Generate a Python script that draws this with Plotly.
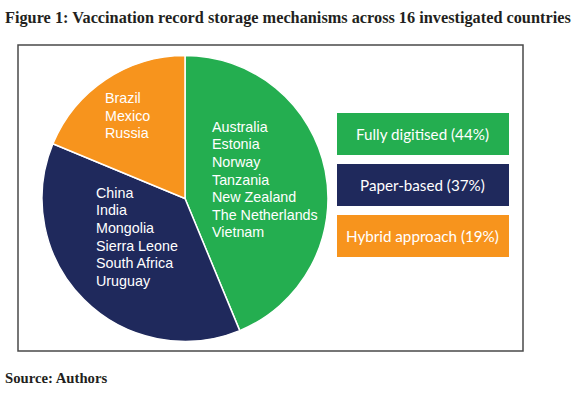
import plotly.graph_objects as go

# ---- data ----
categories = ["Fully digitised", "Paper-based", "Hybrid approach"]
counts = [7, 6, 3]
percent_labels = [44, 37, 19]
countries_digital = ["Australia", "Estonia", "Norway", "Tanzania", "New Zealand", "The Netherlands", "Vietnam"]
countries_paper = ["China", "India", "Mongolia", "Sierra Leone", "South Africa", "Uruguay"]
countries_hybrid = ["Brazil", "Mexico", "Russia"]
colors = ["#24AE50", "#1F295C", "#F7941D"]

W, H = 573, 397

def px_x(x):
    return x / W

def px_y(y):
    return 1 - y / H

fig = go.Figure()

cx, cy, r = 185, 198.5, 143
fig.add_trace(go.Pie(
    labels=categories,
    values=counts,
    sort=False,
    direction="clockwise",
    rotation=0,
    marker=dict(colors=colors, line=dict(color="white", width=1.5)),
    textinfo="none",
    hoverinfo="label+value",
    showlegend=False,
    domain=dict(x=[px_x(cx - r), px_x(cx + r)], y=[px_y(cy + r), px_y(cy - r)]),
))

annotations = []
shapes = []

# frame
shapes.append(dict(type="rect", xref="paper", yref="paper",
                   x0=px_x(18), x1=px_x(523), y0=px_y(351), y1=px_y(45),
                   line=dict(color="#4a4a4a", width=1.5), fillcolor="rgba(0,0,0,0)", layer="below"))

# country lists inside slices (one annotation per line, 17.5px line pitch)
country_font = dict(family="Liberation Sans, Arial, sans-serif", size=14.3, color="white")
line_pitch = 17.5
for lst, (x, y0) in [(countries_digital, (210, 127)), (countries_paper, (94, 193)), (countries_hybrid, (103, 98))]:
    for i, name in enumerate(lst):
        annotations.append(dict(text=name, x=px_x(x), y=px_y(y0 + i * line_pitch), xref="paper", yref="paper",
                                xanchor="left", yanchor="middle", align="left", showarrow=False, font=country_font))

# legend boxes
box_tops = [113, 164, 215]
for cat, pct, col, top in zip(categories, percent_labels, colors, box_tops):
    shapes.append(dict(type="rect", xref="paper", yref="paper",
                       x0=px_x(337), x1=px_x(509), y0=px_y(top + 42), y1=px_y(top),
                       line=dict(width=0), fillcolor=col))
    annotations.append(dict(text=f"{cat} ({pct}%)", x=px_x(423), y=px_y(top + 21), xref="paper", yref="paper",
                            xanchor="center", yanchor="middle", showarrow=False,
                            font=dict(family="Lato, Open Sans, sans-serif", size=15.2, color="white")))

# title & source
annotations.append(dict(text="<b>Figure 1: Vaccination record storage mechanisms across 16 investigated countries</b>",
                        x=px_x(3), y=px_y(18), xref="paper", yref="paper", xanchor="left", yanchor="middle",
                        showarrow=False, font=dict(family="Liberation Serif, Times New Roman, serif", size=16.3, color="#231f20")))
annotations.append(dict(text="<b>Source: Authors</b>",
                        x=px_x(3), y=px_y(378), xref="paper", yref="paper", xanchor="left", yanchor="middle",
                        showarrow=False, font=dict(family="Liberation Serif, Times New Roman, serif", size=14.7, color="#231f20")))

fig.update_layout(
    width=W, height=H,
    margin=dict(l=0, r=0, t=0, b=0),
    paper_bgcolor="white", plot_bgcolor="white",
    showlegend=False,
    annotations=annotations,
    shapes=shapes,
)

fig.write_html("out.html", config={"displayModeBar": False},
               post_script="document.body.style.margin='0';")
